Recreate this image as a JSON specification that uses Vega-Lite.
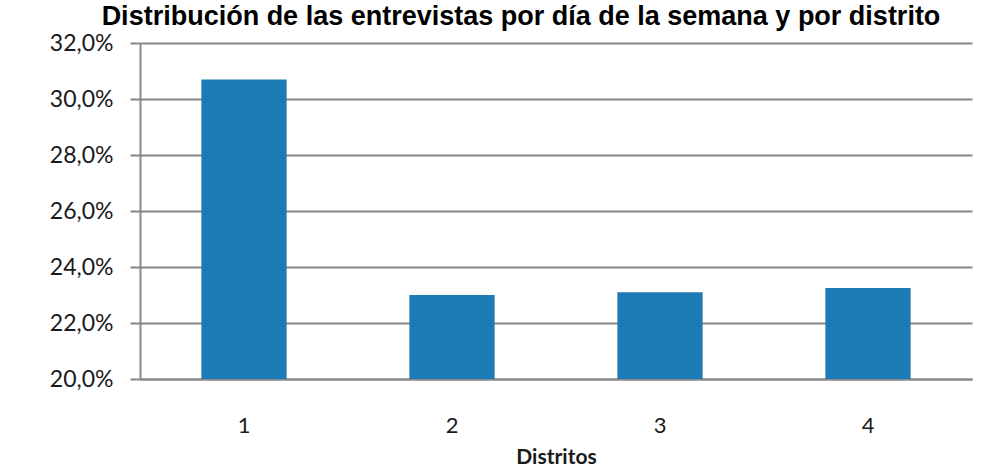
{
  "$schema": "https://vega.github.io/schema/vega-lite/v6.json",
  "autosize": {"type": "none"},
  "padding": {"left": 140, "top": 43, "right": 31, "bottom": 94},
  "width": 832,
  "height": 336,
  "background": "white",
  "title": {
    "text": "Distribución de las entrevistas por día de la semana y por distrito",
    "font": "Liberation Sans",
    "fontSize": 27,
    "fontWeight": "bold",
    "color": "#000000",
    "anchor": "middle",
    "frame": "group",
    "baseline": "alphabetic",
    "offset": -20,
    "dx": -35
  },
  "data": {
    "values": [
      {"distrito": "1", "porcentaje": 30.7},
      {"distrito": "2", "porcentaje": 23.0},
      {"distrito": "3", "porcentaje": 23.1},
      {"distrito": "4", "porcentaje": 23.25}
    ]
  },
  "mark": {"type": "bar", "color": "#1c7bb4", "clip": true},
  "encoding": {
    "x": {
      "field": "distrito",
      "type": "ordinal",
      "title": "Distritos",
      "scale": {"paddingInner": 0.59, "paddingOuter": 0.295},
      "axis": {
        "labelAngle": 0,
        "labelFont": "Lato",
        "labelFontSize": 22,
        "labelColor": "#1a1a1a",
        "labelBaseline": "middle",
        "labelPadding": 46,
        "ticks": false,
        "domainColor": "#878787",
        "domainWidth": 2,
        "titleFont": "Lato",
        "titleFontSize": 21,
        "titleFontWeight": "bold",
        "titleColor": "#1a1a1a",
        "titlePadding": 10
      }
    },
    "y": {
      "field": "porcentaje",
      "type": "quantitative",
      "title": null,
      "scale": {"domain": [20, 32], "zero": false, "nice": false},
      "axis": {
        "values": [20, 22, 24, 26, 28, 30, 32],
        "labelExpr": "replace(format(datum.value, '.1f'), '.', ',') + '%'",
        "labelFont": "Lato",
        "labelFontSize": 23,
        "labelColor": "#1a1a1a",
        "labelPadding": 17,
        "tickSize": 10,
        "tickColor": "#878787",
        "tickWidth": 2,
        "domainColor": "#878787",
        "domainWidth": 2,
        "grid": true,
        "gridColor": "#878787",
        "gridWidth": 2,
        "gridOpacity": 1
      }
    },
    "y2": {"datum": 20}
  },
  "config": {
    "view": {"stroke": null}
  }
}
